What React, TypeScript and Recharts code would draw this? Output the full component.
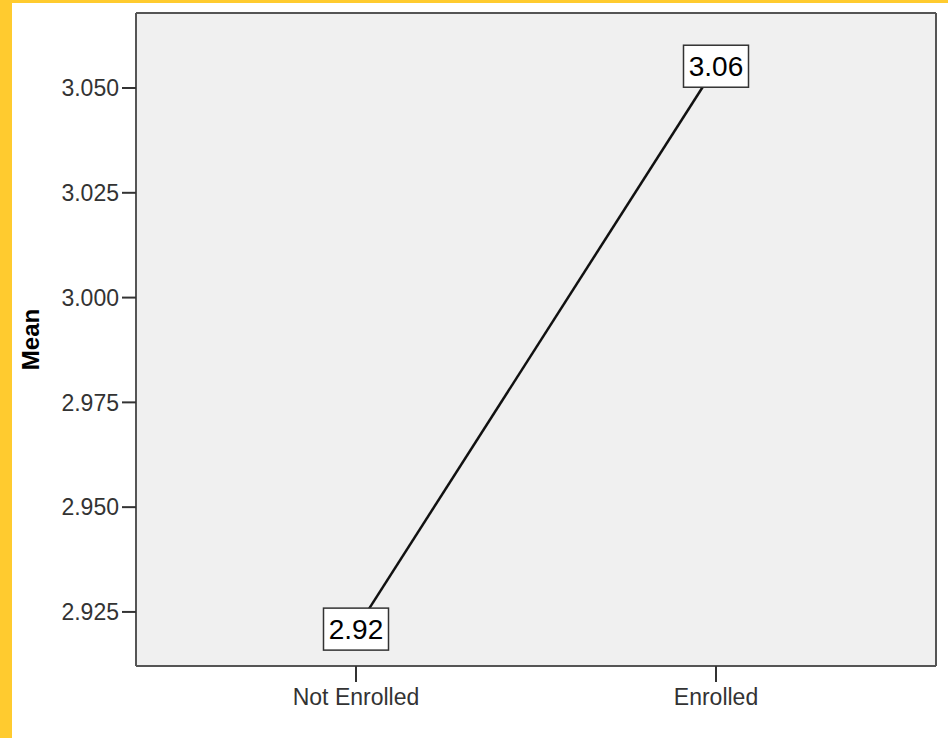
import React from 'react';
import { LineChart, Line, XAxis, YAxis, CartesianGrid, LabelList } from 'recharts';

// group means
const groups = ['Not Enrolled', 'Enrolled'];
const means = [2.9209, 3.0552];
const yTicks = [2.925, 2.95, 2.975, 3.0, 3.025, 3.05];
const yDomain = [2.9121, 3.0679];

const data = groups.map((g, i) => ({ group: g, mean: means[i] }));

const FONT = '"Liberation Sans", Arial, sans-serif';

// white box with the rounded mean, centred on the point
const MeanBox = (props: any) => {
  const { x, y, value } = props;
  const w = 65;
  const h = 42;
  return (
    <g>
      <rect x={x - w / 2} y={y - h / 2} width={w} height={h} fill="#ffffff" stroke="#333333" strokeWidth={1.5} />
      <text x={x} y={y} textAnchor="middle" dominantBaseline="central" fontSize={28} fontFamily={FONT} fill="#000000">
        {Number(value).toFixed(2)}
      </text>
    </g>
  );
};

const App: React.FC = () => {
  return (
    <div style={{ position: 'absolute', left: 0, top: 0, width: 948, height: 738, background: '#ffffff' }}>
      {/* yellow frame edges */}
      <div style={{ position: 'absolute', left: 0, top: 0, width: 12, height: 738, background: '#ffcb2f' }} />
      <div style={{ position: 'absolute', left: 0, top: 0, width: 948, height: 3, background: '#ffcb2f' }} />
      <div style={{ position: 'absolute', left: 0, top: 0 }}>
        <LineChart width={948} height={738} data={data} margin={{ top: 13, right: 12, bottom: 0, left: 0 }}>
          {/* grey plot background plus a frame along the plot edges */}
          <CartesianGrid
            fill="#f0f0f0"
            stroke="#555555"
            strokeWidth={2}
            horizontalCoordinatesGenerator={({ offset }: any) => [offset.top, offset.top + offset.height]}
            verticalCoordinatesGenerator={({ offset }: any) => [offset.left, offset.left + offset.width]}
          />
          <XAxis
            dataKey="group"
            type="category"
            scale="point"
            padding={{ left: 220, right: 220 }}
            height={72}
            tickSize={16}
            tickMargin={7}
            axisLine={{ stroke: '#555555', strokeWidth: 2 }}
            tickLine={{ stroke: '#333333', strokeWidth: 2 }}
            tick={{ fontSize: 23, fill: '#333333', fontFamily: FONT }}
          />
          <YAxis
            type="number"
            domain={yDomain}
            ticks={yTicks}
            allowDataOverflow
            width={136}
            tickSize={14}
            tickMargin={3}
            tickFormatter={(v: number) => v.toFixed(3)}
            axisLine={{ stroke: '#555555', strokeWidth: 2 }}
            tickLine={{ stroke: '#333333', strokeWidth: 2 }}
            tick={{ fontSize: 23, fill: '#333333', fontFamily: FONT }}
            label={{
              content: (p: any) => {
                const vb = p.viewBox;
                const cx = 30;
                const cy = vb.y + vb.height / 2;
                return (
                  <text x={cx} y={cy} textAnchor="middle" dominantBaseline="central"
                    style={{ fontSize: 24, fontWeight: 'bold', fontFamily: FONT }} fill="#000000"
                    transform={`rotate(-90 ${cx} ${cy})`}>
                    Mean
                  </text>
                );
              },
            }}
          />
          <Line
            type="linear"
            dataKey="mean"
            stroke="#111111"
            strokeWidth={2.5}
            dot={false}
            activeDot={false}
            isAnimationActive={false}
          >
            <LabelList dataKey="mean" content={MeanBox} />
          </Line>
        </LineChart>
      </div>
    </div>
  );
};

export default App;
